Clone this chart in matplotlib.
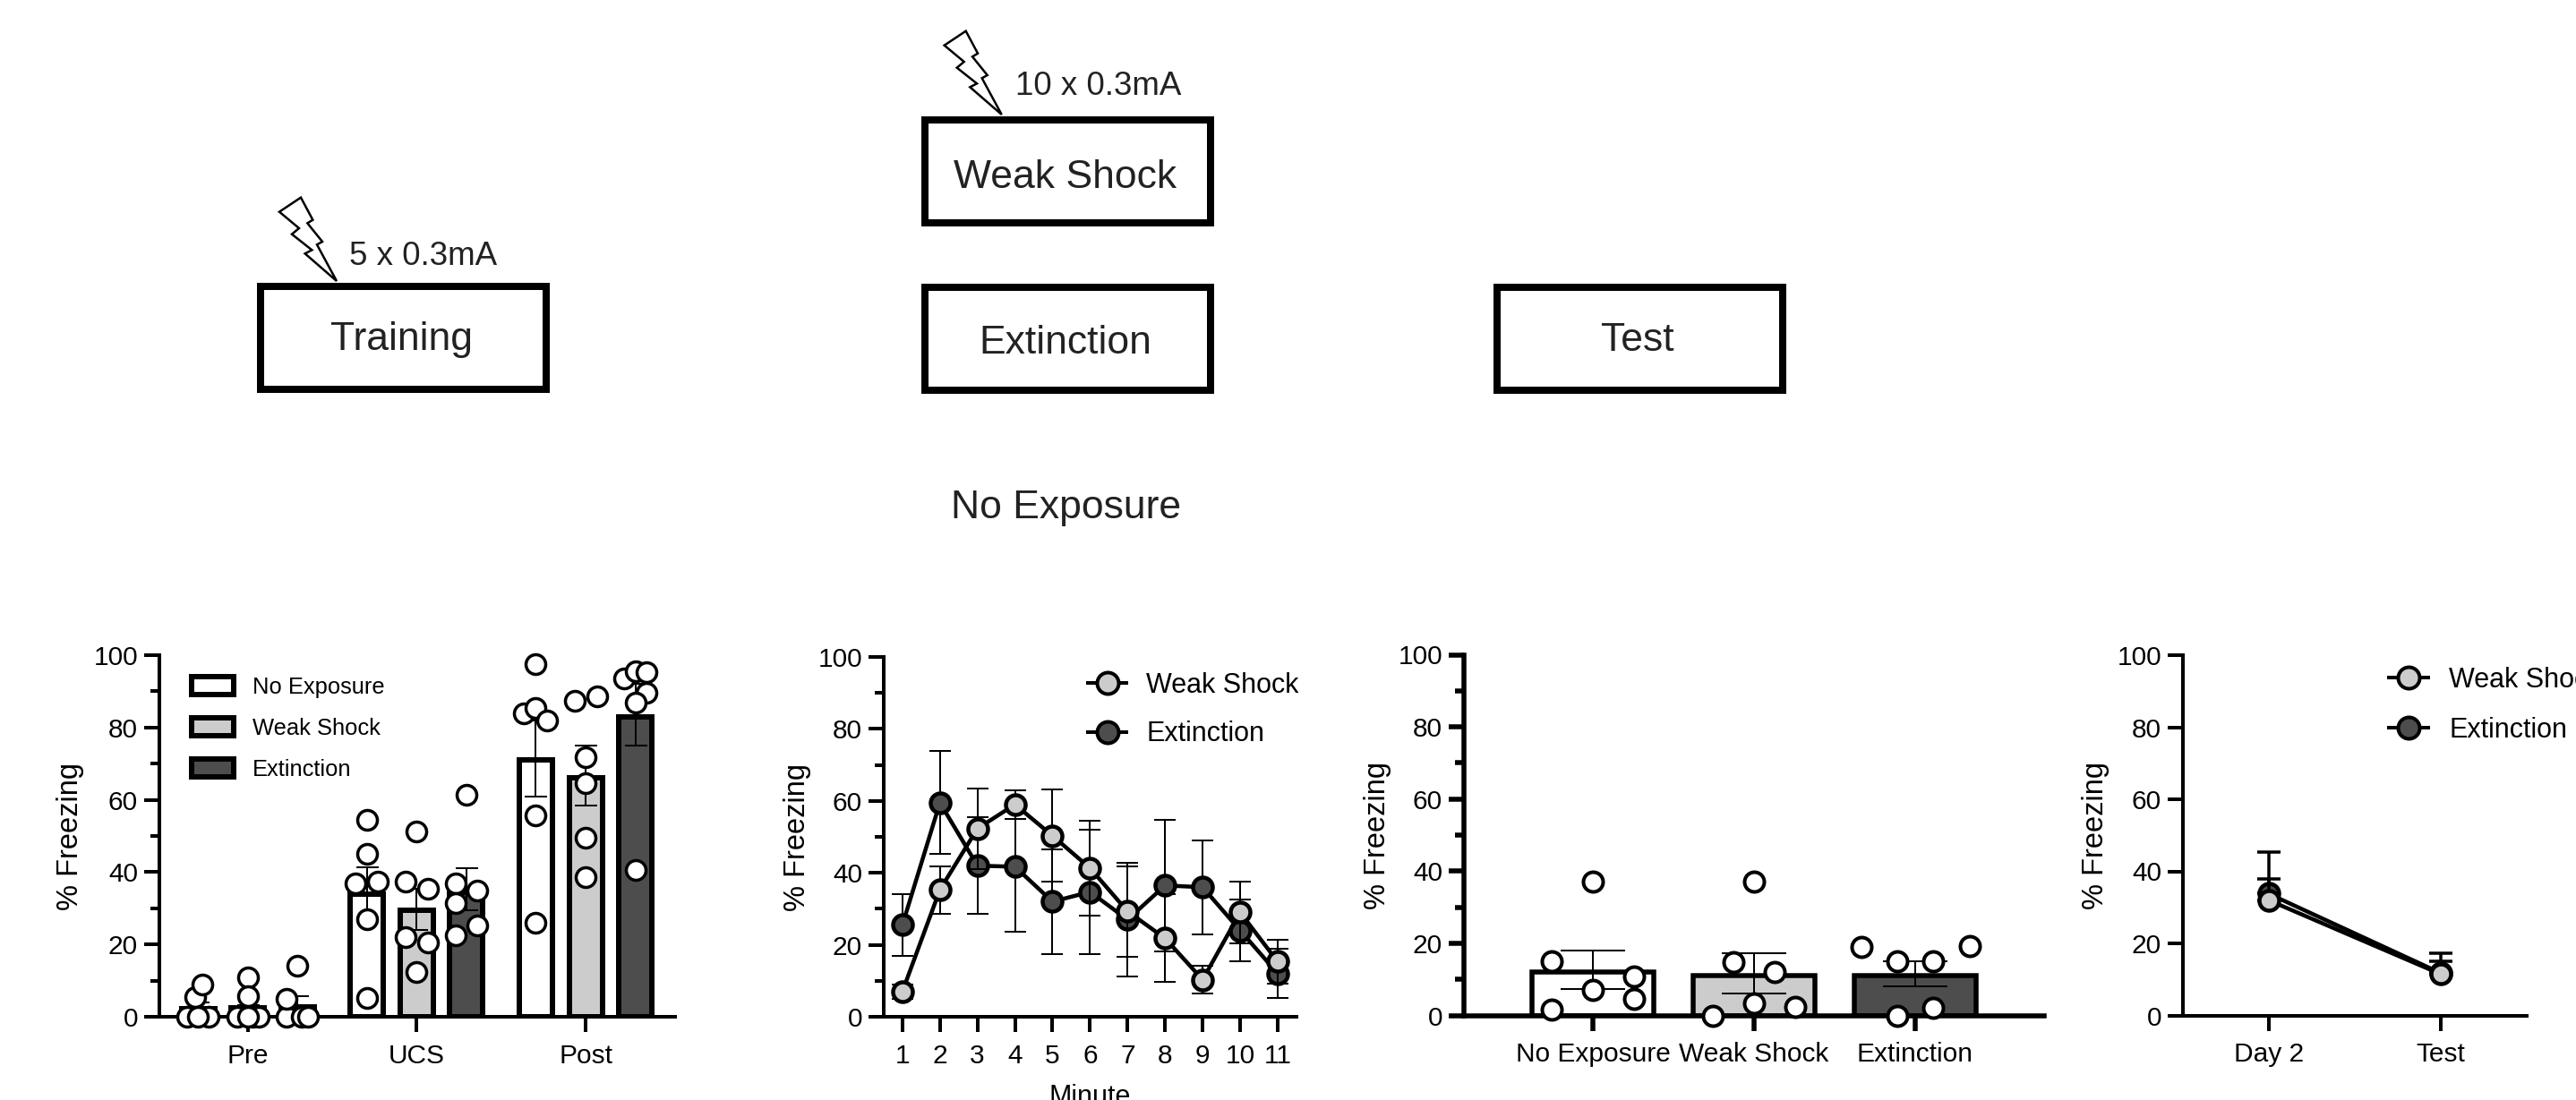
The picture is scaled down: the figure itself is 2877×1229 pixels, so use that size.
import matplotlib
matplotlib.use("Agg")
from matplotlib import pyplot as plt
from matplotlib.lines import Line2D
from matplotlib.patches import Patch, Polygon, Rectangle
import numpy as np

W, H = 2877, 1229
GREY = "#cccccc"
DARK = "#4d4d4d"
PX = 72 / 100  # points per pixel at dpi 100

plt.rcParams["font.family"] = ["Liberation Sans", "DejaVu Sans"]

groups = ["No Exposure", "Weak Shock", "Extinction"]
group_colors = ["white", GREY, DARK]

# training: bars per phase
phases = ["Pre", "UCS", "Post"]
train_means = [[2.2, 34.0, 71.0], [2.5, 29.5, 66.0], [2.8, 34.3, 82.8]]
train_hi = [[4.0, 41.3, 82.0], [3.2, 35.5, 75.0], [5.6, 41.0, 92.0]]
train_lo = [[0.4, 27.5, 61.0], [1.8, 24.0, 58.5], [0.0, 29.5, 75.0]]
train_points = [
    [[(-0.065, 0), (-0.02, 5.5), (0.025, 8.8), (0.062, 0), (0.0, 0)],
     [(-0.064, 0), (0.0, 11), (0.0, 5.7), (0.025, 0), (0.064, 0), (0.0, 0)],
     [(-0.065, 0), (-0.065, 5), (0.0, 14), (0.027, 0), (0.06, 0)]],
    [[(0, 54.5), (0, 45), (-0.066, 37), (0.065, 37.5), (0, 27), (0, 5.3)],
     [(-0.066, 37.5), (0.065, 35.5), (0, 51.3), (-0.066, 22), (0.065, 20.5), (0, 12.5)],
     [(-0.066, 37), (0.065, 35), (0, 61.5), (-0.066, 31.5), (0.065, 25.2), (-0.066, 22.5)]],
    [[(0, 97.5), (-0.07, 84), (0, 85.5), (0.065, 82), (0, 55.8), (0, 26)],
     [(-0.065, 87.3), (0.068, 88.7), (0, 71.8), (0, 64.5), (0, 49.6), (0, 38.5)],
     [(-0.067, 93.5), (0, 95.5), (0.065, 95.3), (0.065, 89.5), (0, 87), (0, 40.5)]],
]

# extinction session, per minute
minutes = list(range(1, 12))
weak_minute = [7, 35.3, 52.3, 59, 50.3, 41.3, 29.3, 21.8, 10.3, 29, 15.3]
weak_minute_err = [2, 6.6, 11.2, 4, 12.8, 13.3, 12.6, 12.2, 3.9, 8.6, 6.0]
ext_minute = [25.5, 59.5, 42, 41.7, 32, 34.7, 27, 36.5, 36, 24, 12]
ext_minute_err = [8.7, 14.3, 13.5, 18, 14.6, 17.3, 15.8, 18.3, 13, 8.7, 6.8]

# test bars
test_means = [12.0, 11.0, 11.0]
test_hi = [18.1, 17.2, 15.0]
test_lo = [7.3, 6.0, 8.0]
test_points = [
    [(0, 37.2), (-0.256, 14.9), (0.256, 10.7), (0, 7), (0.256, 4.6), (-0.256, 1.7)],
    [(0, 37.2), (-0.128, 14.8), (0.128, 12), (0, 3.3), (0.256, 2.3), (-0.256, 0)],
    [(-0.334, 19), (0.337, 19.3), (-0.11, 15), (0.113, 15), (0.113, 2.1), (-0.11, 0)],
]

# day 2 vs test
days = ["Day 2", "Test"]
weak_day = [32, 11.5]
weak_day_err = [6, 3.5]
ext_day = [33.8, 11.8]
ext_day_err = [11.5, 5.5]


def make_axes(fig, left, right, top, bottom, lw, minor=True):
    ax = fig.add_axes([left / W, 1 - bottom / H, (right - left) / W, (bottom - top) / H])
    ax.patch.set_alpha(0)
    ax.set_ylim(0, 100)
    for side in ["top", "right"]:
        ax.spines[side].set_visible(False)
    for side in ["left", "bottom"]:
        ax.spines[side].set_linewidth(lw * PX)
    ax.set_yticks(range(0, 101, 20))
    if minor:
        ax.set_yticks(range(10, 100, 20), minor=True)
    ax.tick_params(axis="both", which="major", length=17 * PX, width=lw * PX,
                   labelsize=21.5)
    ax.tick_params(axis="y", which="major", pad=5)
    ax.tick_params(axis="x", which="major", pad=9)
    ax.tick_params(axis="y", which="minor", length=10 * PX, width=lw * PX)
    return ax


def set_ylabel(ax, left, right, x_px):
    ax.set_ylabel("% Freezing", fontsize=23.5, va="center", ha="center")
    ax.yaxis.set_label_coords((x_px - left) / (right - left), 0.5)


def line_handle(color):
    return Line2D([], [], color="black", lw=4 * PX, marker="o", ms=24 * PX,
                  mfc=color, mec="black", mew=4 * PX)


def place_legend(ax, handles, labels, x_px, y_px, size, **kw):
    return ax.legend(handles, labels, loc="upper left", frameon=False, fontsize=size,
                     bbox_to_anchor=(x_px / W, 1 - y_px / H),
                     bbox_transform=ax.figure.transFigure, borderpad=0,
                     borderaxespad=0, **kw)


def draw_trend(ax, x, y, err, color, cap, lw_err, ms, z, upper_only=False):
    yerr = [[0] * len(err), err] if upper_only else err
    ax.errorbar(x, y, yerr=yerr, fmt="none", ecolor="black", elinewidth=lw_err * PX,
                capsize=cap * PX, capthick=lw_err * PX, zorder=z, clip_on=False)
    ax.plot(x, y, color="black", lw=4.5 * PX, marker="o", ms=ms * PX, mfc=color,
            mec="black", mew=4.5 * PX, zorder=z + 0.5, clip_on=False)


fig = plt.figure(figsize=(W / 100, H / 100), dpi=100, facecolor="white")

# panel 1
L1, R1 = 178, 754
ax1 = make_axes(fig, L1, R1, 732, 1136, 4)
ax1.set_xlim(-0.524, 2.53)
bar_step = 0.2945
for i, color in enumerate(group_colors):
    offset = (i - 1) * bar_step
    for j in range(len(phases)):
        x = j + offset
        ax1.bar(x, train_means[i][j], width=0.196, color=color, edgecolor="black",
                linewidth=6 * PX, zorder=2)
        m = train_means[i][j]
        ax1.errorbar(x, m, yerr=[[m - train_lo[i][j]], [train_hi[i][j] - m]], fmt="none",
                     ecolor="black", elinewidth=2 * PX, capsize=12.5 * PX,
                     capthick=2 * PX, zorder=3)
        pts = train_points[j][i]
        ax1.plot([x + p[0] for p in pts], [p[1] for p in pts], "o", ms=22 * PX,
                 mfc="white", mec="black", mew=3.5 * PX, zorder=4, clip_on=False)
ax1.set_xticks(range(3), phases)
set_ylabel(ax1, L1, R1, 79)
place_legend(ax1,
             [Patch(facecolor=c, edgecolor="black", linewidth=6 * PX) for c in group_colors],
             groups, 214, 756, 18.4, handlelength=1.84, handleheight=0.8,
             handletextpad=0.82, labelspacing=0.86)

# panel 2
L2, R2 = 987, 1447.5
ax2 = make_axes(fig, L2, R2, 734, 1136, 4)
ax2.set_xlim(1 - 20.8 / 41.9, 11 + 20.5 / 41.9)
draw_trend(ax2, minutes, ext_minute, ext_minute_err, DARK, 12, 2, 22, 3)
draw_trend(ax2, minutes, weak_minute, weak_minute_err, GREY, 12, 2, 22, 5)
ax2.set_xticks(minutes)
set_ylabel(ax2, L2, R2, 890)
place_legend(ax2, [line_handle(GREY), line_handle(DARK)], ["Weak Shock", "Extinction"],
             1215, 751, 22, handlelength=1.41, handletextpad=0.72, labelspacing=0.8)
fig.text(1217 / W, 1 - 1211 / H, "Minute", fontsize=22, ha="center", va="top")

# panel 3
L3, R3 = 1635, 2283
ax3 = make_axes(fig, L3, R3, 731.5, 1134.5, 5.5)
ax3.set_xlim(-0.8, 2.8)
for i, color in enumerate(group_colors):
    ax3.bar(i, test_means[i], width=0.76, color=color, edgecolor="black",
            linewidth=5.5 * PX, zorder=2)
    m = test_means[i]
    ax3.errorbar(i, m, yerr=[[m - test_lo[i]], [test_hi[i] - m]], fmt="none", ecolor="black",
                 elinewidth=2 * PX, capsize=36.5 * PX, capthick=2 * PX, zorder=3)
    ax3.plot([i + p[0] for p in test_points[i]], [p[1] for p in test_points[i]], "o",
             ms=22 * PX, mfc="white", mec="black", mew=4 * PX, zorder=4, clip_on=False)
ax3.set_xticks(range(3), groups)
set_ylabel(ax3, L3, R3, 1538)

# panel 4
L4, R4 = 2438, 2821.5
ax4 = make_axes(fig, L4, R4, 732, 1134.5, 4, minor=False)
ax4.set_xlim(-0.498, 1.5)
draw_trend(ax4, [0, 1], ext_day, ext_day_err, DARK, 13.5, 3.5, 22, 3, upper_only=True)
draw_trend(ax4, [0, 1], weak_day, weak_day_err, GREY, 13.5, 3.5, 22, 5, upper_only=True)
ax4.set_xticks([0, 1], days)
set_ylabel(ax4, L4, R4, 2341)
place_legend(ax4, [line_handle(GREY), line_handle(DARK)], ["Weak Shock", "Extinction"],
             2668, 745, 22, handlelength=1.45, handletextpad=0.75, labelspacing=0.85)

# schematic on top, laid out in image pixels
top = fig.add_axes([0, 0, 1, 1], zorder=-1)
top.set_xlim(0, W)
top.set_ylim(H, 0)
top.axis("off")

boxes = [(290.5, 320, "Training", 60), (1032.5, 134, "Weak Shock", 65),
         (1032.5, 320.5, "Extinction", 63), (1671.5, 320.5, "Test", 60)]
for x, y, name, dy in boxes:
    top.add_patch(Rectangle((x, y), 319, 115, fill=False, edgecolor="black",
                            linewidth=8 * PX))
    top.text(x + 157.5, y + dy, name, fontsize=32, color="#222222", ha="center",
             va="center")
top.text(1190.5, 567, "No Exposure", fontsize=32, color="#222222", ha="center",
         va="center")
top.text(472.5, 286, "5 x 0.3mA", fontsize=26.5, color="#222222", ha="center", va="center")
top.text(1227, 97, "10 x 0.3mA", fontsize=26.5, color="#222222", ha="center", va="center")

bolt = np.array([(138, 32), (66, 80), (132, 135), (108, 155), (175, 208), (152, 220),
                 (258, 312), (192, 190), (210, 180), (160, 118), (178, 107)]) / 3
for ox, oy in [(290, 210), (1032.7, 24)]:
    top.add_patch(Polygon(bolt + (ox, oy), closed=True, facecolor="white",
                          edgecolor="black", linewidth=2.5 * PX))

fig.savefig("out.png", dpi=100)
